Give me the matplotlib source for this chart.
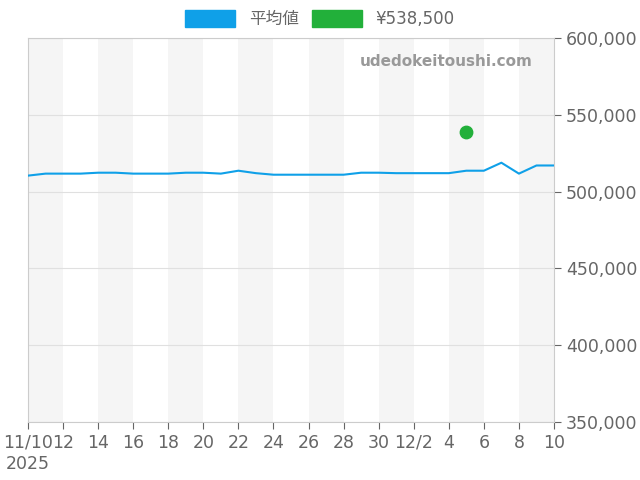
import matplotlib
matplotlib.use('Agg')
import matplotlib.pyplot as plt
from matplotlib.patches import Patch
import numpy as np

plt.rcParams['font.family'] = ['DejaVu Sans', 'Noto Sans CJK JP']

# days since 11/10
days = list(range(31))
avg_price = [510400, 511700, 511700, 511700, 512300, 512300, 511700, 511700, 511700, 512300,
             512300, 511700, 513600, 512000, 511000, 511000, 511000, 511000, 511000, 512300,
             512300, 512000, 512000, 512000, 512000, 513600, 513600, 518800, 511700, 517000,
             517000]
point_day = [25]
point_price = [538500]
tick_days = list(range(0, 31, 2))
tick_labels = ['11/10\n2025', '12', '14', '16', '18', '20', '22', '24', '26', '28', '30',
               '12/2', '4', '6', '8', '10']

fig = plt.figure(figsize=(6.4, 4.8), dpi=100)
ax = fig.add_axes([28/640, 58/480, 526/640, 384/480])

for s in range(0, 30, 4):
    ax.axvspan(s, s + 2, color='#f5f5f5', lw=0, zorder=0)

ax.plot(days, avg_price, color='#0fa0e8', lw=1.5, zorder=3)
ax.scatter(point_day, point_price, color='#22b03a', s=80, zorder=4)

ax.set_xlim(0, 30)
ax.set_ylim(350000, 600000)
ax.set_xticks(tick_days)
ax.set_xticklabels(tick_labels)
ax.yaxis.tick_right()
ax.set_yticks(range(350000, 600001, 50000))
ax.yaxis.set_major_formatter(matplotlib.ticker.FuncFormatter(lambda v, p: f'{int(v):,}'))
ax.tick_params(colors='#666666', labelsize=12.5, length=5)
ax.grid(axis='y', color='#e0e0e0', lw=0.8)
for sp in ax.spines.values():
    sp.set_color('#cccccc')

ax.text(0.96, 0.94, 'udedokeitoushi.com', transform=ax.transAxes, ha='right', va='center',
        fontsize=11, fontweight='bold', color='#999999')

handles = [Patch(color='#0fa0e8', label='平均値'), Patch(color='#22b03a', label='¥538,500')]
fig.legend(handles=handles, loc='center', bbox_to_anchor=(0.5, 1 - 19/480), ncol=2,
           frameon=False, fontsize=12, handlelength=3, handleheight=1.2, labelcolor='#666666',
           columnspacing=0.8)

fig.savefig('out.png')
